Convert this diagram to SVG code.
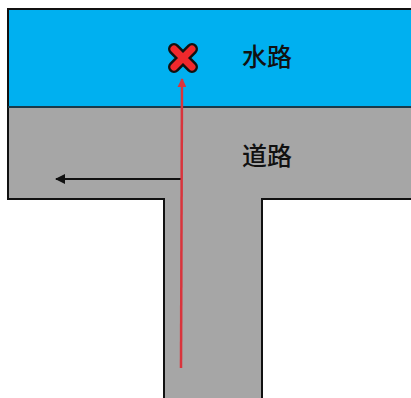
<svg xmlns="http://www.w3.org/2000/svg" width="411" height="398" viewBox="0 0 411 398">
<defs>
<style>
.lbl{font-family:"Noto Sans CJK SC","Noto Sans CJK JP",sans-serif;font-size:25px;font-weight:500;fill:#111;}
</style>
<marker id="blk" viewBox="0 0 10 10" refX="9" refY="5" markerWidth="14" markerHeight="10" markerUnits="userSpaceOnUse" orient="auto"><path d="M0,0 L10,5 L0,10 Z" fill="#111"/></marker>
<marker id="red" viewBox="0 0 10 10" refX="9" refY="5" markerWidth="10" markerHeight="9" markerUnits="userSpaceOnUse" orient="auto"><path d="M0,0 L10,5 L0,10 Z" fill="#D9343C"/></marker>
</defs>
<rect width="411" height="398" fill="#fff"/>
<g id="waterway">
<rect x="8" y="9" width="403" height="98" fill="#00B0F0"/>
<text class="lbl" x="242" y="66">水路</text>
</g>
<g id="road">
<path d="M8,107 H411 V199 H262 V398 H164 V199 H8 Z" fill="#A6A6A6"/>
<text class="lbl" x="242" y="165">道路</text>
</g>
<g id="outline" fill="none" stroke="#111" stroke-width="2">
<path d="M411,9 H8 V199 H164 V398"/>
<path d="M262,398 V199 H411"/>
<path d="M8,107 H411" stroke="#1a3a4a"/>
</g>
<g id="connectors">
<line x1="182" y1="179" x2="56" y2="179" stroke="#111" stroke-width="2" marker-end="url(#blk)"/>
<line x1="181" y1="368" x2="182" y2="79" stroke="#D9343C" stroke-width="2.5" marker-end="url(#red)"/>
</g>
<g id="target">
<path d="M174,49 L192,67 M192,49 L174,67" stroke="#111" stroke-width="12" stroke-linecap="round"/>
<path d="M174,49 L192,67 M192,49 L174,67" stroke="#F0282C" stroke-width="7" stroke-linecap="round"/>
</g>
</svg>
